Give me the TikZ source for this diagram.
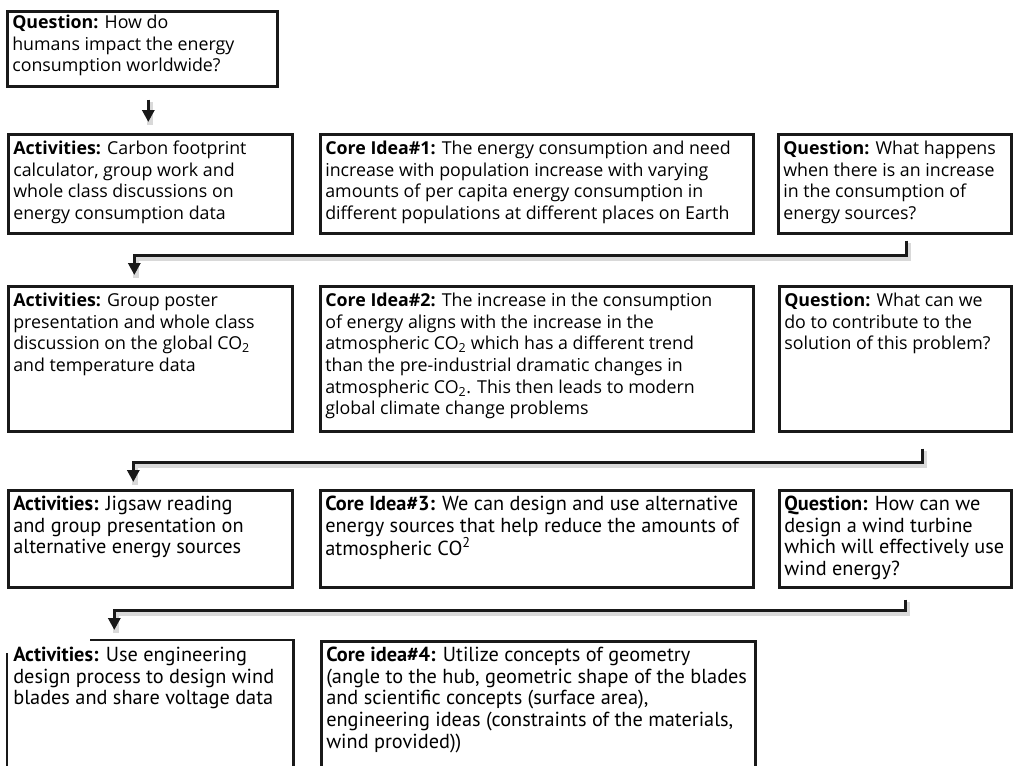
\documentclass[tikz,border=0pt]{standalone}
\usepackage{fontspec}
\setmainfont{Open Sans}
\newfontfamily\condfont{PT Sans}
\usetikzlibrary{arrows.meta,calc}
\newcommand\boxtxt[3]{\parbox[c][\dimexpr#2pt-10pt\relax][t]{\dimexpr#1pt-10pt\relax}{\raggedright\fontsize{17.8}{21.7}\selectfont\strut#3}}
\newcommand\boxtxtc[3]{\parbox[c][\dimexpr#2pt-10pt\relax][t]{\dimexpr#1pt-10pt\relax}{\raggedright\condfont\fontsize{20.3}{21.7}\selectfont\strut#3}}
\newcommand\mybox[6]{\node[bx] (#1) at (#2,#3) {\boxtxt{#4}{#5}{#6}};}
\newcommand\myboxc[6]{\node[bx] (#1) at (#2,#3) {\boxtxtc{#4}{#5}{#6}};}
\newcommand\co{CO\textsubscript{2}}
\begin{document}
\begin{tikzpicture}[x=1pt,y=-1pt,
  bx/.style={draw=black!90, line width=2.6pt, inner xsep=5pt, inner ysep=5pt, anchor=north west},
  conn/.style={line width=3.2pt, draw=black!90, -{Triangle[length=12pt,width=12pt]},
    preaction={draw=black, opacity=0.15, line width=6pt, arrows=-, transform canvas={shift={(1.5pt,-2.5pt)}}}}]
\useasboundingbox (0,0) rectangle (1013,766);
\fill[white] (0,0) rectangle (1013,766);
\begin{scope}
\clip (0,0) rectangle (1013,766);
% row 0
\node[bx, inner ysep=2pt] (Q0) at (6,10) {\boxtxt{270}{81}{\textbf{Question:} How do\\humans impact the energy\\consumption worldwide?}};
% row 1
\mybox{A1}{7}{133}{284}{99}{\textbf{Activities:} Carbon footprint\\calculator, group work and\\whole class discussions on\\energy consumption data}
\mybox{C1}{319}{133}{433}{99}{\textbf{Core Idea\#1:} The energy consumption and need\\increase with population increase with varying\\amounts of per capita energy consumption in\\different populations at different places on Earth}
\mybox{Q1}{777}{133}{233}{99}{\textbf{Question:} What happens\\when there is an increase\\in the consumption of\\energy sources?}
% row 2
\mybox{A2}{7}{285}{284}{145}{\textbf{Activities:} Group poster\\presentation and whole class\\discussion on the global \co\\and temperature data}
\mybox{C2}{319}{285}{433}{145}{\textbf{Core Idea\#2:} The increase in the consumption\\of energy aligns with the increase in the\\atmospheric \co\ which has a different trend\\than the pre-industrial dramatic changes in\\atmospheric \co. This then leads to modern\\global climate change problems}
\mybox{Q2}{778}{285}{232}{145}{\textbf{Question:} What can we\\do to contribute to the\\solution of this problem?}
% row 3
\myboxc{A3}{7}{489}{284}{97}{\textbf{Activities:} Jigsaw reading\\and group presentation on\\alternative energy sources}
\myboxc{C3}{319}{489}{433}{97}{\textbf{Core Idea\#3:} We can design and use alternative\\energy sources that help reduce the amounts of\\atmospheric CO\textsuperscript{2}}
\myboxc{Q3}{778}{489}{232}{97}{\textbf{Question:} How can we\\design a wind turbine\\which will effectively use\\wind energy?}
% row 4
\node[bx,draw=none] (A4) at (7,640) {\boxtxtc{284}{150}{\textbf{Activities:} Use engineering\\design process to design wind\\blades and share voltage data}};
\draw[line width=2.6pt, draw=black!90] ([xshift=83pt]A4.north west) -- (A4.north east) -- (A4.south east) -- (A4.south west) -- ([yshift=-13pt]A4.north west);
\myboxc{C4}{320}{640}{434}{150}{\textbf{Core idea\#4:} Utilize concepts of geometry\\(angle to the hub, geometric shape of the blades\\and scientific concepts (surface area),\\engineering ideas (constraints of the materials,\\wind provided))}
\end{scope}
% connectors
\draw[conn, shorten <=12pt, shorten >=11pt] ([xshift=6pt]Q0.south) -- ([xshift=6pt]Q0.south |- A1.north);
\draw[conn] ([xshift=11.5pt,yshift=-6pt]Q1.south) -- ++(0,15) -| ([xshift=-16pt,yshift=10pt]A2.north);
\draw[conn] ([xshift=27pt,yshift=-16pt]Q2.south) -- ++(0,14) -| ([xshift=-17pt,yshift=7pt]A3.north);
\draw[conn] ([xshift=10pt,yshift=-11pt]Q3.south) -- ++(0,11) -| ([xshift=-36pt,yshift=10pt]A4.north);
\end{tikzpicture}
\end{document}
